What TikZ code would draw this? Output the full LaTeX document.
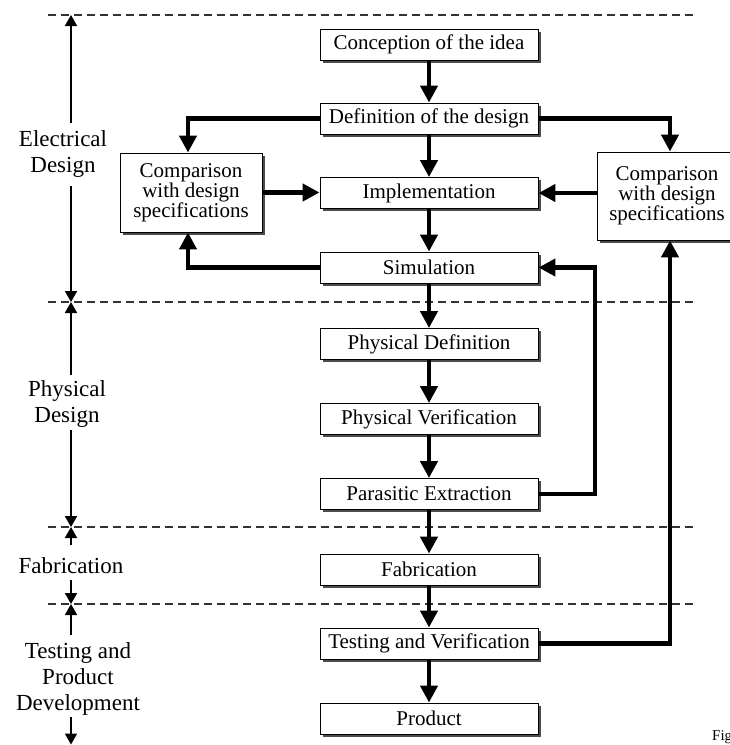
\documentclass[tikz,border=0pt]{standalone}
\usepackage{fontspec}
\setmainfont{Liberation Serif}
\usetikzlibrary{arrows.meta,shadows}
\begin{document}
\begin{tikzpicture}[x=1pt,y=-1pt,
  box/.style={draw, line width=0.9pt, fill=white, inner sep=0pt,
    font=\fontsize{21}{20}\selectfont, align=center,
    drop shadow={shadow xshift=2.5pt, shadow yshift=-2.5pt, fill=black!70, opacity=1}},
  mainbox/.style={box, minimum width=218pt, minimum height=31pt},
  arr/.style={line width=4.5pt, -{Triangle[length=17pt,width=17pt]}},
  sidearr/.style={line width=1.8pt, -{Triangle[length=11pt,width=12pt]}},
  sep/.style={draw=black!80, line width=1.2pt, dash pattern=on 8pt off 5pt},
  lab/.style={inner sep=0pt, align=center, font=\fontsize{23}{26}\selectfont}]
\useasboundingbox (0,0) rectangle (730,745);

% separators
\foreach \yy/\nm in {15/s0,302/s1,527/s2,604/s3}{
  \coordinate (\nm a) at (48,\yy);
  \coordinate (\nm b) at (695,\yy);
  \draw[sep] (\nm a) -- (\nm b);
}

% main column
\node[mainbox] (concept) at (429,44.5) {Conception of the idea};
\node[mainbox] (define)  at (429,118.5) {Definition of the design};
\node[mainbox] (impl)    at (429,193) {Implementation};
\node[mainbox] (sim)     at (429,267.5) {Simulation};
\node[mainbox] (pdef)    at (429,344) {Physical Definition};
\node[mainbox] (pver)    at (429,419) {Physical Verification};
\node[mainbox] (para)    at (429,494) {Parasitic Extraction};
\node[mainbox] (fab)     at (429,569.5) {Fabrication};
\node[mainbox] (test)    at (429,643.5) {Testing and Verification};
\node[mainbox] (prod)    at (429,718.5) {Product};

% comparison boxes
\node[box, minimum width=142pt, minimum height=79pt] (lc) at (191,192.5)
  {Comparison\\with design\\specifications};
\node[box, minimum width=140pt, minimum height=88pt] (rc) at (667,196)
  {Comparison\\with design\\specifications};

% bend columns
\coordinate (lx) at (188,0);
\coordinate (rx) at (670,0);
\coordinate (px) at (595,0);

% vertical flow
\draw[arr] (concept) -- (define);
\draw[arr] (define) -- (impl);
\draw[arr] (impl) -- (sim);
\draw[arr] (sim) -- (pdef);
\draw[arr] (pdef) -- (pver);
\draw[arr] (pver) -- (para);
\draw[arr] (para) -- (fab);
\draw[arr] (fab) -- (test);
\draw[arr] (test) -- (prod);

% feedback loops
\draw[arr] (define.west) -| (lx |- lc.north);
\draw[arr] (define.east) -| (rx |- rc.north);
\draw[arr] (lc.east) -- (lc.east -| impl.west);
\draw[arr] (rc.west |- impl.east) -- (impl.east);
\draw[arr] (sim.west) -| (lx |- lc.south);
\draw[arr] (para.east) -| (px |- sim.east) -- (sim.east);
\draw[arr] (test.east) -| (rx |- rc.south);

% side labels
\node[lab] (elab) at (63,154) {Electrical\\Design};
\node[lab] (plab) at (67,404) {Physical\\Design};
\node[lab] (flab) at (71,566) {Fabrication};
\node[lab] (tlab) at (78,679) {Testing and\\Product\\Development};

\coordinate (e0) at (71,15);   \coordinate (e1) at (71,123);
\coordinate (e2) at (71,186);  \coordinate (e3) at (71,302);
\coordinate (p1) at (71,375);  \coordinate (p2) at (71,430);
\coordinate (p3) at (71,527);
\coordinate (f1) at (71,545);  \coordinate (f2) at (71,580);
\coordinate (f3) at (71,604);
\coordinate (t1) at (71,635);  \coordinate (t2) at (71,717);
\coordinate (t3) at (71,744.5);

\draw[sidearr] (e1) -- (e0);
\draw[sidearr] (e2) -- (e3);
\draw[sidearr] (p1) -- (e3);
\draw[sidearr] (p2) -- (p3);
\draw[sidearr] (f1) -- (p3);
\draw[sidearr] (f2) -- (f3);
\draw[sidearr] (t1) -- (f3);
\draw[sidearr] (t2) -- (t3);

% cut-off caption
\node[anchor=base west, inner sep=0pt, font=\fontsize{15}{17}\selectfont] (fig) at (712,740) {Fig};
\end{tikzpicture}
\end{document}
